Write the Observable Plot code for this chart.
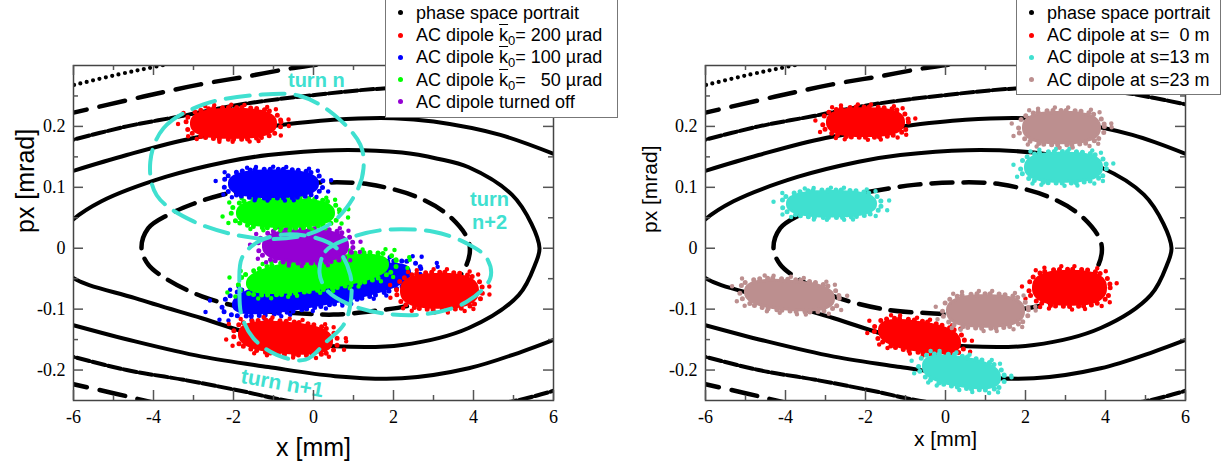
<!DOCTYPE html>
<html><head><meta charset="utf-8">
<script src="https://cdn.jsdelivr.net/npm/d3@7"></script>
<script src="https://cdn.jsdelivr.net/npm/@observablehq/plot@0.6"></script>
<style>
body{margin:0;background:#fff;}
#wrap{position:relative;width:1230px;height:467px;overflow:hidden;background:#fff;}
.panel{position:absolute;top:0;}
.legend{position:absolute;background:#fff;border:1px solid #777;box-sizing:border-box;font-family:"Liberation Sans",Arial,sans-serif;font-size:18px;color:#000;}
.row{position:absolute;height:22px;line-height:22px;white-space:pre;}
.bullet{position:absolute;width:5px;height:5px;border-radius:50%;}
.ov{text-decoration:overline;}
sub{font-size:13px;vertical-align:-4px;line-height:0;}
</style></head>
<body><div id="wrap"></div>
<script>
// ---------- axis ticks ----------
const xTicks = [-6, -4, -2, 0, 2, 4, 6];
const xMinorTicks = [-5, -3, -1, 1, 3, 5];
const yTicks = [-0.2, -0.1, 0, 0.1, 0.2];
const yMinorTicks = [-0.15, -0.05, 0.05, 0.15, 0.25];

// ---------- phase space portrait ----------
const curveA = [[-4.3,0],[-4.13,0.033],[-3.63,0.055],[-3.0,0.073],[-2.33,0.087],[-1.79,0.094],[-0.79,0.104],[0.29,0.108],[1.38,0.105],[2.63,0.083],[3.46,0.049],[3.9,0.006],[3.74,-0.038],[3.0,-0.078],[2.46,-0.093],[1.5,-0.103],[0.5,-0.109],[-0.29,-0.107],[-1.46,-0.101],[-2.79,-0.079],[-3.71,-0.049],[-4.13,-0.027]];
const curveB = [[-6.6,0],[-6.1,0.042],[-5.3,0.077],[-3.7,0.117],[-2.17,0.142],[-1.13,0.153],[0.54,0.161],[2.21,0.157],[3.1,0.147],[3.88,0.133],[4.96,0.088],[5.45,0.04],[5.65,0],[5.55,-0.025],[5.13,-0.077],[3.88,-0.131],[2.21,-0.159],[0.54,-0.161],[-1.13,-0.148],[-2.79,-0.115],[-4.46,-0.082],[-6.1,-0.045]];
const curveCTop = [[-6.3,0.121],[-4.67,0.153],[-3.0,0.181],[-1.1,0.2],[0.5,0.211],[2.0,0.2135],[3.0,0.208],[4.67,0.186],[6.3,0.147]];
const curveCBottom = [[-6.3,-0.121],[-4.46,-0.153],[-2.79,-0.178],[-1.13,-0.195],[0.54,-0.21],[2.21,-0.2135],[3.88,-0.197],[5.2,-0.17],[6.3,-0.143]];
const curveDTop = [[-6.3,0.173],[-4.67,0.2],[-3.3,0.217],[-1.83,0.236],[0.08,0.252],[1.67,0.262],[3.0,0.264],[4.5,0.255],[6.3,0.232]];
const curveDBottom = [[-6.3,-0.173],[-4.67,-0.2],[-3.25,-0.216],[-1.83,-0.234],[-0.5,-0.252],[1.5,-0.262],[3.0,-0.264],[5.0,-0.251],[6.3,-0.228]];
const curveETop = [[-6.3,0.218],[-4.25,0.249],[-2.83,0.269],[-1.67,0.282],[-0.5,0.296],[0.5,0.305],[1.6,0.314]];
const curveEBottom = [[-6.3,-0.219],[-5.0,-0.238],[-4.1,-0.252],[-3.0,-0.268]];
const curveFTop = [[-6.3,0.263],[-4.9,0.285],[-3.8,0.300],[-2.6,0.315]];

// ---------- bunches, left panel (centre x, centre px, half width, half height, tilt) ----------
const leftSeries   = ["k100", "k50", "off", "k50", "k100", "k200", "k200", "k200"];
const leftCenterX  = [0.2, 0.1, -0.2, -0.7, -1.0, -2.0, 3.15, -0.7];
const leftCenterY  = [-0.066, -0.042, 0.004, 0.058, 0.106, 0.205, -0.07, -0.147];
const leftHalfW    = [2.2, 1.75, 1.05, 1.2, 1.1, 1.05, 0.95, 1.15];
const leftHalfH    = [0.026, 0.024, 0.025, 0.022, 0.021, 0.023, 0.027, 0.024];
const leftTilt     = [0.012, 0.009, 0, 0, 0, 0, 0, -0.005];

// ---------- bunches, right panel ----------
const rightSeries  = ["s0", "s0", "s0", "s13", "s13", "s13", "s23", "s23", "s23"];
const rightCenterX = [-2.0, 3.1, -0.65, -2.85, 2.95, 0.4, 2.9, -3.9, 1.0];
const rightCenterY = [0.207, -0.065, -0.145, 0.073, 0.133, -0.203, 0.198, -0.077, -0.103];
const rightHalfW   = [0.95, 0.9, 1.0, 1.1, 0.95, 0.95, 0.95, 1.1, 0.95];
const rightHalfH   = [0.022, 0.027, 0.023, 0.02, 0.023, 0.023, 0.025, 0.023, 0.025];
const rightTilt    = [0, 0, -0.01, 0, 0, -0.01, 0, -0.005, 0];

// ---------- turn markers (left panel) ----------
const turnN  = [[-4.08,0.142],[-3.75,0.197],[-2.75,0.236],[-1.33,0.252],[-0.33,0.25],[0.5,0.22],[1.17,0.17],[1.25,0.131],[1.08,0.093],[0.5,0.044],[-0.3,0.02],[-1.5,0.017],[-3.0,0.044],[-3.92,0.087]];
const turnN1 = [[-1.79,-0.016],[-1.85,-0.066],[-1.8,-0.11],[-1.5,-0.148],[-0.92,-0.175],[-0.2,-0.183],[0.33,-0.153],[0.75,-0.126],[0.92,-0.093],[0.92,-0.044],[0.58,0.0],[0.0,0.018],[-0.8,0.022],[-1.4,0.01]];
const turnN2 = [[0.15,-0.04],[0.3,-0.005],[0.92,0.017],[1.75,0.03],[3.0,0.027],[3.83,0.008],[4.33,-0.016],[4.42,-0.049],[3.83,-0.088],[2.83,-0.108],[1.75,-0.107],[0.92,-0.093],[0.35,-0.07]];
const turnLabelText = ["turn n", "turn", "n+2", "turn n+1"];
const turnLabelX = [0.07, 4.4, 4.4, -0.78];
const turnLabelY = [0.275, 0.08, 0.042, -0.222];

// ---------- legends ----------
const leftLegendKeys = ["portrait", "k200", "k100", "k50", "off"];
const leftLegendHTML = ["phase space portrait",
  'AC dipole <span class="ov">k</span><sub>0</sub>= 200 µrad',
  'AC dipole <span class="ov">k</span><sub>0</sub>= 100 µrad',
  'AC dipole <span class="ov">k</span><sub>0</sub>=   50 µrad',
  "AC dipole turned off"];
const rightLegendKeys = ["portrait", "s0", "s13", "s23"];
const rightLegendHTML = ["phase space portrait", "AC dipole at s=  0 m", "AC dipole at s=13 m", "AC dipole at s=23 m"];

const colors = {portrait:"#000000", k200:"#ff0000", k100:"#0000ff", k50:"#00ff00", off:"#9400d3", s0:"#ff0000", s13:"#40e0d0", s23:"#bc8f8f"};
const cyan = "#40e0d0";

// ---------- helpers ----------
const FH = 335, FW = 480;
const px = d => d[0], py = d => d[1];
const angles = d3.range(0, 360, 8);
function outline(c, s) {
  return angles.map(a => {
    const t = a * Math.PI / 180, ct = Math.cos(t), st = Math.sin(t);
    const dx = s * c.w * Math.sign(ct) * Math.pow(Math.abs(ct), 0.75);
    const dy = s * c.h * Math.sign(st) * Math.pow(Math.abs(st), 0.8);
    return [c.x + dx, c.y + dy + c.tilt * dx];
  });
}
function clusterMarks(series, cx, cy, w, h, tilt) {
  const marks = [];
  series.forEach((k, i) => {
    const c = {x: cx[i], y: cy[i], w: w[i], h: h[i], tilt: tilt[i]};
    const col = colors[k];
    marks.push(Plot.line(outline(c, 1.32), {x: px, y: py, curve: "catmull-rom-closed", stroke: col, strokeWidth: 4.5, strokeLinecap: "round", strokeDasharray: "0 17 0 9 0 23 0 13", clip: true}));
    marks.push(Plot.line(outline(c, 1.13), {x: px, y: py, curve: "catmull-rom-closed", stroke: col, strokeWidth: 5, strokeLinecap: "round", strokeDasharray: "0 6 0 9 0 5 0 8", clip: true}));
    marks.push(Plot.line(outline(c, 1.0), {x: px, y: py, curve: "catmull-rom-closed", fill: col, stroke: col, strokeWidth: 3, clip: true}));
  });
  return marks;
}
function portraitMarks() {
  return [
    Plot.line(curveFTop, {x: px, y: py, curve: "catmull-rom", stroke: "#000", strokeWidth: 4.2, strokeLinecap: "round", strokeDasharray: "0 6.5", clip: true}),
    Plot.line(curveETop, {x: px, y: py, curve: "catmull-rom", stroke: "#000", strokeWidth: 4.5, strokeDasharray: "26 13", clip: true}),
    Plot.line(curveEBottom, {x: px, y: py, curve: "catmull-rom", stroke: "#000", strokeWidth: 4.5, strokeDasharray: "26 13", clip: true}),
    Plot.line(curveDTop, {x: px, y: py, curve: "catmull-rom", stroke: "#000", strokeWidth: 4, strokeDasharray: "13 3", clip: true}),
    Plot.line(curveDBottom, {x: px, y: py, curve: "catmull-rom", stroke: "#000", strokeWidth: 4, strokeDasharray: "13 3", clip: true}),
    Plot.line(curveCTop, {x: px, y: py, curve: "catmull-rom", stroke: "#000", strokeWidth: 4, clip: true}),
    Plot.line(curveCBottom, {x: px, y: py, curve: "catmull-rom", stroke: "#000", strokeWidth: 4, clip: true}),
    Plot.line(curveB, {x: px, y: py, curve: "catmull-rom-closed", stroke: "#000", strokeWidth: 4, clip: true}),
    Plot.line(curveA, {x: px, y: py, curve: "catmull-rom-closed", stroke: "#000", strokeWidth: 4.5, strokeDasharray: "21 11", clip: true})
  ];
}
function axisMarks(xLabelSize, xLabelDy, yLabelSize, yLabelDx) {
  const tc = "#555";
  return [
    Plot.frame({stroke: "#444", strokeWidth: 1.5}),
    Plot.tickX(xTicks, {x: d => d, insetTop: FH - 10, stroke: tc, strokeWidth: 1.5}),
    Plot.tickX(xTicks, {x: d => d, insetBottom: FH - 10, stroke: tc, strokeWidth: 1.5}),
    Plot.tickX(xMinorTicks, {x: d => d, insetTop: FH - 5, stroke: tc, strokeWidth: 1.5}),
    Plot.tickX(xMinorTicks, {x: d => d, insetBottom: FH - 5, stroke: tc, strokeWidth: 1.5}),
    Plot.tickY(yTicks, {y: d => d, insetRight: FW - 10, stroke: tc, strokeWidth: 1.5}),
    Plot.tickY(yTicks, {y: d => d, insetLeft: FW - 10, stroke: tc, strokeWidth: 1.5}),
    Plot.tickY(yMinorTicks, {y: d => d, insetRight: FW - 5, stroke: tc, strokeWidth: 1.5}),
    Plot.tickY(yMinorTicks, {y: d => d, insetLeft: FW - 5, stroke: tc, strokeWidth: 1.5}),
    Plot.axisX(xTicks, {anchor: "bottom", tickSize: 0, tickPadding: 10, tickFormat: d => String(d), fontSize: 18, fontFamily: "Liberation Serif", label: null}),
    Plot.axisY(yTicks, {anchor: "left", tickSize: 0, tickPadding: 8, tickFormat: d => String(d), fontSize: 18, fontFamily: "Liberation Serif", label: null}),
    Plot.text(["x [mm]"], {text: d => d, frameAnchor: "bottom", dy: xLabelDy, fontSize: xLabelSize, fontFamily: "Liberation Sans"}),
    Plot.text(["px [mrad]"], {text: d => d, frameAnchor: "left", dx: yLabelDx, rotate: -90, fontSize: yLabelSize, fontFamily: "Liberation Sans"})
  ];
}
function makePlot(marginLeft, marginRight, marks) {
  return Plot.plot({
    width: 615, height: 467, marginLeft, marginRight, marginTop: 65, marginBottom: 67,
    x: {domain: [-6, 6], axis: null}, y: {domain: [-0.25, 0.3], axis: null},
    style: {background: "transparent", fontFamily: "Liberation Sans", overflow: "visible"},
    marks
  });
}

const wrap = document.getElementById("wrap");

// left panel
const leftPlot = makePlot(73, 62, [
  ...portraitMarks(),
  ...clusterMarks(leftSeries, leftCenterX, leftCenterY, leftHalfW, leftHalfH, leftTilt),
  Plot.line(turnN,  {x: px, y: py, curve: "catmull-rom-closed", stroke: cyan, strokeWidth: 4, strokeDasharray: "24 11", clip: true}),
  Plot.line(turnN1, {x: px, y: py, curve: "catmull-rom-closed", stroke: cyan, strokeWidth: 4, strokeDasharray: "24 11", clip: true}),
  Plot.line(turnN2, {x: px, y: py, curve: "catmull-rom-closed", stroke: cyan, strokeWidth: 4, strokeDasharray: "24 11", clip: true}),
  Plot.text(turnLabelText.slice(0, 3), {x: (d, i) => turnLabelX[i], y: (d, i) => turnLabelY[i], text: d => d, fill: cyan, fontSize: 20, fontWeight: "bold"}),
  Plot.text(turnLabelText.slice(3), {x: () => turnLabelX[3], y: () => turnLabelY[3], text: d => d, fill: cyan, fontSize: 21, fontWeight: "bold", rotate: 10}),
  ...axisMarks(25, 55, 25, -48)
]);
const lp = document.createElement("div"); lp.className = "panel"; lp.style.left = "0px"; lp.appendChild(leftPlot); wrap.appendChild(lp);

// right panel
const rightPlot = makePlot(90, 45, [
  ...portraitMarks(),
  ...clusterMarks(rightSeries, rightCenterX, rightCenterY, rightHalfW, rightHalfH, rightTilt),
  ...axisMarks(21, 45, 21, -55)
]);
const rp = document.createElement("div"); rp.className = "panel"; rp.style.left = "615px"; rp.appendChild(rightPlot); wrap.appendChild(rp);

// legends
function legend(left, width, height, keys, html, bulletX, textX) {
  const box = document.createElement("div");
  box.className = "legend";
  Object.assign(box.style, {left: left + "px", top: "-2px", width: width + "px", height: height + "px"});
  keys.forEach((k, i) => {
    const cy = 14.7 + i * 22.3;
    const b = document.createElement("div");
    b.className = "bullet";
    Object.assign(b.style, {left: (bulletX - 2.5) + "px", top: (cy - 2.5 - 1) + "px", background: colors[k]});
    box.appendChild(b);
    const r = document.createElement("div");
    r.className = "row";
    Object.assign(r.style, {left: textX + "px", top: (cy - 11 - 1) + "px"});
    r.innerHTML = html[i];
    box.appendChild(r);
  });
  wrap.appendChild(box);
}
legend(385, 233, 120, leftLegendKeys, leftLegendHTML, 14, 30);
legend(1016, 205, 97, rightLegendKeys, rightLegendHTML, 14, 30);
</script></body></html>
